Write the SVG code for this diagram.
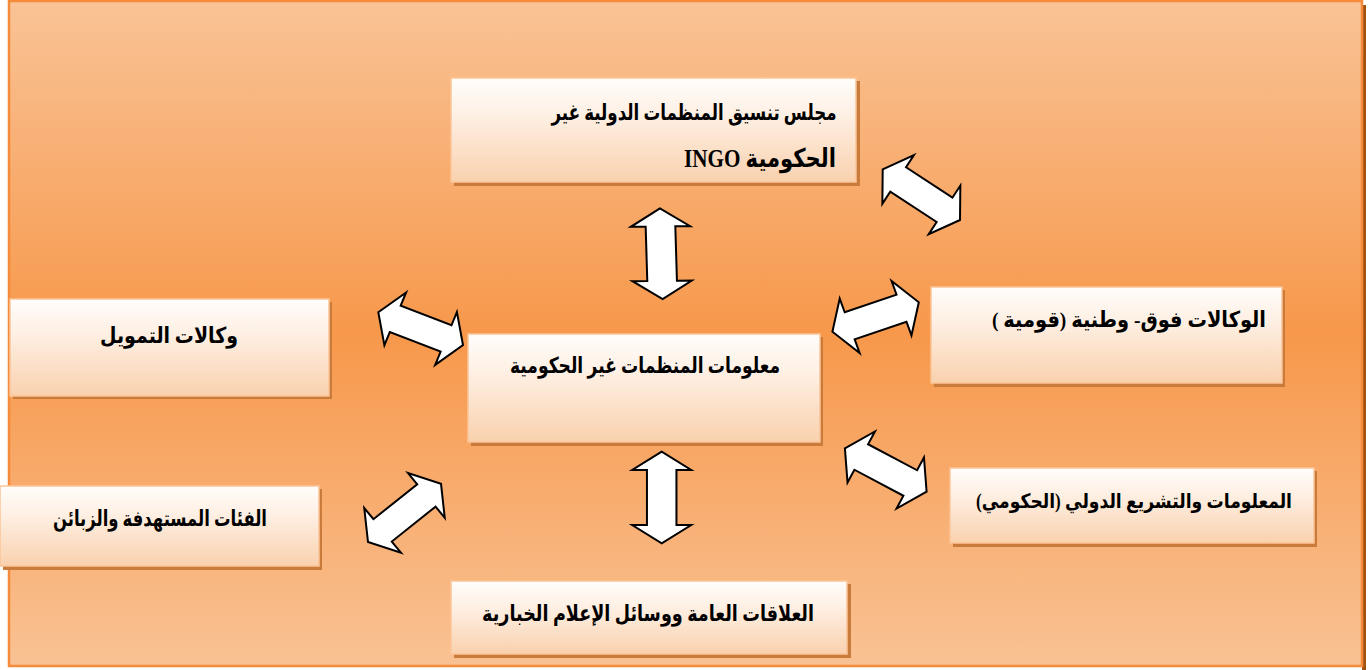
<svg xmlns="http://www.w3.org/2000/svg" xmlns:xlink="http://www.w3.org/1999/xlink" width="1371" height="670" viewBox="0 0 1371 670">
<defs>
<linearGradient id="bg" x1="0" y1="0" x2="0" y2="1">
<stop offset="0" stop-color="#f9c396"/>
<stop offset="0.5" stop-color="#f7984b"/>
<stop offset="1" stop-color="#f9c294"/>
</linearGradient>
<linearGradient id="box" x1="0" y1="0" x2="0" y2="1">
<stop offset="0" stop-color="#fffdfb"/>
<stop offset="0.35" stop-color="#fef0e4"/>
<stop offset="1" stop-color="#f9d1ae"/>
</linearGradient>
<path id="dbl" d="M-1,0 L-0.6,-1 L-0.6,-0.5 L0.6,-0.5 L0.6,-1 L1,0 L0.6,1 L0.6,0.5 L-0.6,0.5 L-0.6,1 Z" fill="#ffffff" stroke="#000000" stroke-width="2" stroke-linejoin="miter" vector-effect="non-scaling-stroke"/>
<style>
.sh{fill:#c97b3c}
.bx{fill:url(#box);stroke:#fbc597;stroke-width:1.5}
.t{font-family:"Liberation Serif","DejaVu Sans",serif;font-weight:bold;font-size:22px;fill:#000;direction:rtl;unicode-bidi:embed;text-anchor:middle}
.big{font-size:26px}
.sm{font-size:20px}
</style>
</defs>
<rect x="1362" y="5" width="4" height="665" fill="#a4500f"/>
<rect x="9" y="1" width="1353" height="665" fill="url(#bg)" stroke="#f48a3a" stroke-width="2.5"/>
<g id="connectors">
<use xlink:href="#dbl" transform="matrix(1.35,45.35,29.65,-0.3,661.3,253.7)"/>
<use xlink:href="#dbl" transform="matrix(0,45.8,29.5,0,661.7,497.5)"/>
<use xlink:href="#dbl" transform="matrix(38.65,25.35,-15.8,24.3,921.35,194.65)"/>
<use xlink:href="#dbl" transform="matrix(42.35,16.35,-10.85,26.35,420.65,328.65)"/>
<use xlink:href="#dbl" transform="matrix(43.2,-14.7,9.95,27.2,875.6,317)"/>
<use xlink:href="#dbl" transform="matrix(40.85,21.7,-13.7,25.5,885.75,470)"/>
<use xlink:href="#dbl" transform="matrix(36.5,-29.1,18.35,22.35,404.5,512.9)"/>
</g>
<g id="n-ingo">
<rect class="sh" x="454" y="81" width="406" height="105"/>
<rect class="bx" x="451" y="78" width="405" height="104"/>
<text class="t" x="694" y="120" textLength="285" lengthAdjust="spacingAndGlyphs">مجلس تنسيق المنظمات الدولية غير</text>
<text class="t big" x="760" y="167" textLength="152" lengthAdjust="spacingAndGlyphs">الحكومية INGO</text>
</g>
<g id="n-funding">
<rect class="sh" x="13" y="302" width="319" height="97"/>
<rect class="bx" x="10" y="299" width="319" height="97"/>
<text class="t" x="169" y="343" textLength="138" lengthAdjust="spacingAndGlyphs">وكالات التمويل</text>
</g>
<g id="n-center">
<rect class="sh" x="471" y="337" width="352" height="109"/>
<rect class="bx" x="468" y="334" width="352" height="108"/>
<text class="t" x="645" y="373" textLength="270" lengthAdjust="spacingAndGlyphs">معلومات المنظمات غير الحكومية</text>
</g>
<g id="n-supranational">
<rect class="sh" x="934" y="290" width="351" height="97"/>
<rect class="bx" x="931" y="287" width="351" height="96"/>
<text class="t" x="1129" y="327" textLength="274" lengthAdjust="spacingAndGlyphs">الوكالات فوق- وطنية (قومية )</text>
</g>
<g id="n-legislation">
<rect class="sh" x="953" y="471" width="364" height="76"/>
<rect class="bx" x="950" y="468" width="364" height="75"/>
<text class="t sm" x="1134" y="508" textLength="316" lengthAdjust="spacingAndGlyphs">المعلومات والتشريع الدولي (الحكومي)</text>
</g>
<g id="n-target">
<rect class="sh" x="3" y="489" width="319" height="81"/>
<rect class="bx" x="0" y="486" width="319" height="80"/>
<text class="t" x="160" y="526" textLength="214" lengthAdjust="spacingAndGlyphs">الفئات المستهدفة والزبائن</text>
</g>
<g id="n-media">
<rect class="sh" x="454" y="584" width="397" height="74"/>
<rect class="bx" x="451" y="581" width="396" height="73"/>
<text class="t" x="648" y="621" textLength="332" lengthAdjust="spacingAndGlyphs">العلاقات العامة ووسائل الإعلام الخبارية</text>
</g>
</svg>
